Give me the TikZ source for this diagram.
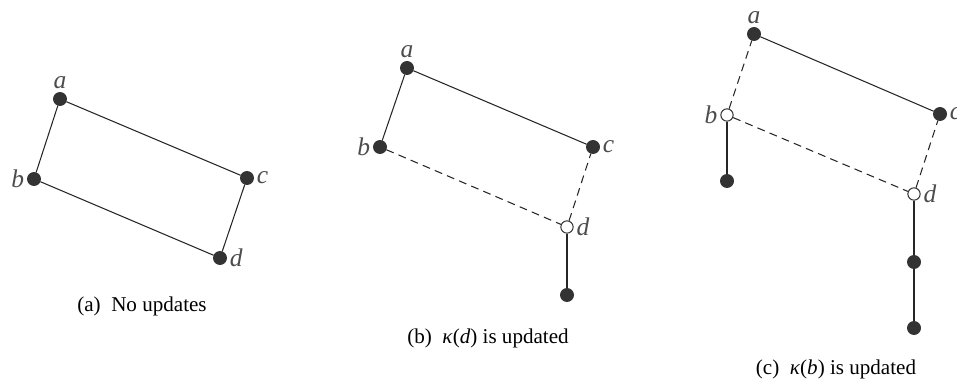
\documentclass[tikz,border=0pt]{standalone}
\usepackage{fontspec}
\setmainfont{Liberation Serif}
\begin{document}
\begin{tikzpicture}[x=0.02cm, y=-0.02cm,
    vtx/.style={circle, fill=black!80, draw=black!80, inner sep=0pt, minimum size=7.5pt},
    hollow/.style={circle, fill=white, draw=black!80, line width=0.6pt, inner sep=0pt, minimum size=7pt},
    lbl/.style={font=\fontsize{14.5}{16}\selectfont\itshape, text=black!70, inner sep=1.5pt},
    edge/.style={line width=0.6pt, black!85},
    upd/.style={edge, dash pattern=on 4.5pt off 3pt},
    capt/.style={font=\fontsize{12}{14}\selectfont}]
  \useasboundingbox (0,0) rectangle (957,381);
  % (a) no updates
  \node[vtx, label={[lbl]above:a}] (a1) at (60,99) {};
  \node[vtx, label={[lbl]left:b}] (b1) at (34,179) {};
  \node[vtx, label={[lbl]right:c}] (c1) at (247,178) {};
  \node[vtx, label={[lbl]right:d}] (d1) at (220,258) {};
  \draw[edge] (a1) -- (b1) -- (d1) -- (c1) -- (a1);
  \node[capt] (capa) at (142,306) {(a)\ \ No updates};
  % (b) kappa(d) updated
  \node[vtx, label={[lbl]above:a}] (a2) at (407,68) {};
  \node[vtx, label={[lbl]left:b}] (b2) at (380,147) {};
  \node[vtx, label={[lbl]right:c}] (c2) at (593,147) {};
  \node[hollow, label={[lbl]right:d}] (d2) at (567,227) {};
  \node[vtx] (e2) at (567,295) {};
  \draw[edge] (b2) -- (a2) -- (c2);
  \draw[upd] (b2) -- (d2) -- (c2);
  \draw[edge] (d2) -- (e2);
  \node[capt] (capb) at (488,338) {(b)\ \ \textit{κ}(\textit{d}) is updated};
  % (c) kappa(b) updated
  \node[vtx, label={[lbl]above:a}] (a3) at (754,34) {};
  \node[hollow, label={[lbl]left:b}] (b3) at (727,115) {};
  \node[vtx, label={[lbl]right:c}] (c3) at (940,114) {};
  \node[hollow, label={[lbl]right:d}] (d3) at (914,194) {};
  \node[vtx] (e3) at (727,181) {};
  \node[vtx] (f3) at (914,262) {};
  \node[vtx] (g3) at (914,328) {};
  \draw[edge] (a3) -- (c3);
  \draw[upd] (b3) -- (a3);
  \draw[upd] (b3) -- (d3) -- (c3);
  \draw[edge] (b3) -- (e3);
  \draw[edge] (d3) -- (f3) -- (g3);
  \node[capt] (capc) at (836,369) {(c)\ \ \textit{κ}(\textit{b}) is updated};
\end{tikzpicture}
\end{document}
